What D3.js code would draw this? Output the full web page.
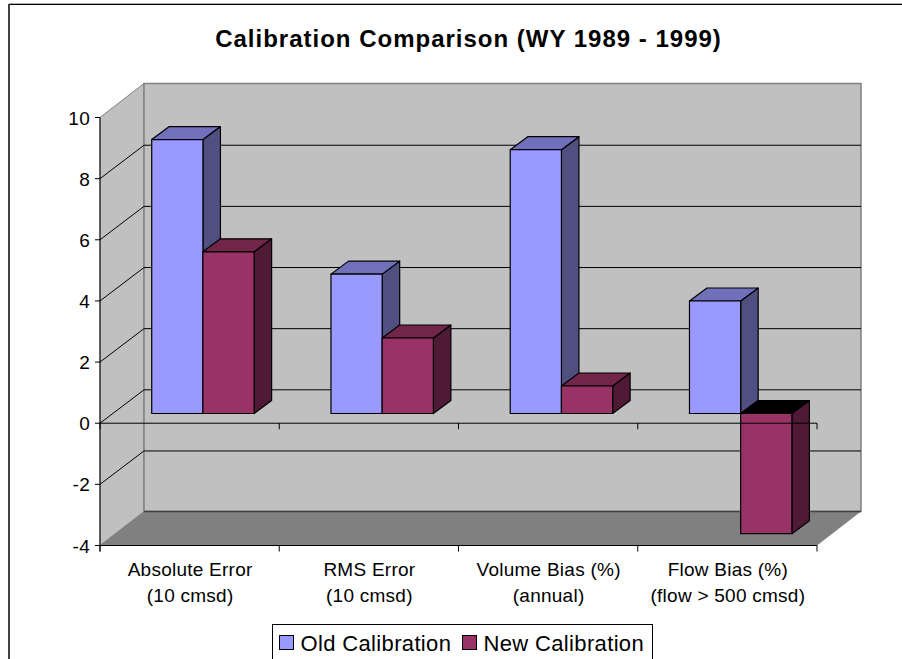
<!DOCTYPE html>
<html><head><meta charset="utf-8">
<script src="https://cdn.jsdelivr.net/npm/d3@7"></script>
<style>html,body{margin:0;padding:0;background:#fff;overflow:hidden}svg{display:block}text{font-family:"Liberation Sans",Arial,sans-serif;fill:#000}</style>
</head><body><svg id="c" width="902" height="659"></svg>
<script>
const categories=[["Absolute Error","(10 cmsd)"],["RMS Error","(10 cmsd)"],["Volume Bias (%)","(annual)"],["Flow Bias (%)","(flow > 500 cmsd)"]];
const seriesNames=["Old Calibration","New Calibration"];
const oldCalibration=[8.96,4.56,8.63,3.68];
const newCalibration=[5.29,2.47,0.9,-3.93];
const yTicks=[-4,-2,0,2,4,6,8,10];
const palette={old:["#9999ff","#7070bb","#4f4f80"],new:["#993366","#702549","#4f1a35"]};

const svg=d3.select("#c");
const y=d3.scaleLinear().domain([-4,10]).range([545.5,117.5]);
const x=d3.scaleBand().domain(d3.range(categories.length)).range([100,817]);
const depth={dx:44,dy:-34};
const barOff={dx:13.3,dy:-9.7}, barDepth={dx:17.5,dy:-13};
const pts=a=>a.map(p=>p.join(",")).join(" ");

// frame: runs off the right and bottom of the picture
svg.append("line").attr("x1",9).attr("x2",902).attr("y1",3.5).attr("y2",3.5).attr("stroke","#b0b0b0");
svg.append("line").attr("x1",8).attr("x2",902).attr("y1",4.5).attr("y2",4.5).attr("stroke","#000");
svg.append("line").attr("x1",9).attr("x2",9).attr("y1",4).attr("y2",659).attr("stroke","#404040").attr("stroke-width",2);
svg.append("text").attr("x",468.5).attr("y",47).attr("text-anchor","middle").attr("font-size",24).attr("letter-spacing",1).attr("font-weight","bold").text("Calibration Comparison (WY 1989 - 1999)");

const yTop=y(10),yBot=y(-4),L=x.range()[0],R=x.range()[1];
// walls
svg.append("polygon").attr("points",pts([[L,yTop],[L+depth.dx,yTop+depth.dy],[L+depth.dx,yBot+depth.dy],[L,yBot]])).attr("fill","#c0c0c0").attr("stroke","#808080");
svg.append("polygon").attr("points",pts([[L+depth.dx,yTop+depth.dy],[R+depth.dx,yTop+depth.dy],[R+depth.dx,yBot+depth.dy],[L+depth.dx,yBot+depth.dy]])).attr("fill","#c0c0c0").attr("stroke","#808080").attr("stroke-width",1.5);
svg.append("polygon").attr("points",pts([[L,yBot],[L+depth.dx,yBot+depth.dy],[R+depth.dx,yBot+depth.dy],[R,yBot]])).attr("fill","#808080");
svg.append("line").attr("x1",L+depth.dx).attr("x2",R+depth.dx).attr("y1",yBot+depth.dy).attr("y2",yBot+depth.dy).attr("stroke","#404040").attr("stroke-width",1.5);
// gridlines
const grids=yTicks.filter(v=>v>-4&&v<10);
svg.append("g").selectAll("polyline").data(grids).join("polyline")
 .attr("points",v=>pts([[L,y(v)],[L+depth.dx,y(v)+depth.dy+.6],[R+depth.dx,y(v)+depth.dy+.6]]))
 .attr("fill","none").attr("stroke","#000").attr("stroke-width",1);

// bars
const bars=[];
categories.forEach((c,i)=>{
  [[oldCalibration[i],palette.old,0],[newCalibration[i],palette.new,1]].forEach(([v,col,s])=>{bars.push({i,v,col,s});});
});
const barW=51.2, inset=(x.bandwidth()-2*barW)/2;
const g=svg.append("g");
bars.forEach(b=>{
  const x0=x(b.i)+inset+b.s*barW+barOff.dx, x1=x0+barW;
  const yv=y(b.v)+barOff.dy, y0=y(0)+barOff.dy;
  const ya=Math.min(yv,y0), yb=Math.max(yv,y0);
  const d=barDepth, st={stroke:"#000","stroke-width":1.2,"stroke-linejoin":"round"};
  const add=(p,f)=>{const e=g.append("polygon").attr("points",pts(p)).attr("fill",f);Object.entries(st).forEach(([k,val])=>e.attr(k,val));};
  add([[x1,ya],[x1+d.dx,ya+d.dy],[x1+d.dx,yb+d.dy],[x1,yb]],b.col[2]);
  add([[x0,ya],[x0+d.dx,ya+d.dy],[x1+d.dx,ya+d.dy],[x1,ya]],b.v<0?"#000":b.col[1]);
  add([[x0,ya],[x1,ya],[x1,yb],[x0,yb]],b.col[0]);
});

// axes
const line=(a,b,c,d)=>svg.append("line").attr("x1",a).attr("y1",b).attr("x2",c).attr("y2",d).attr("stroke","#000");
line(L,yTop,L,yBot+6);
yTicks.forEach(v=>{line(L-5,y(v),L,y(v));
  svg.append("text").attr("x",L-10).attr("y",y(v)+7).attr("text-anchor","end").attr("font-size",19).attr("letter-spacing",.3).text(v);});
[0,-4].forEach(v=>{line(L,y(v),R,y(v));
  d3.range(categories.length+1).forEach(i=>{const t=i<categories.length?x(i):R;line(t,y(v),t,y(v)+6);});});
categories.forEach((c,i)=>{const cx=x(i)+x.bandwidth()/2+.5;
  c.forEach((t,k)=>svg.append("text").attr("x",cx).attr("y",576+k*25.5).attr("text-anchor","middle").attr("font-size",19).attr("letter-spacing",.25).text(t));});

// legend
svg.append("rect").attr("x",272.5).attr("y",624.5).attr("width",380).attr("height",50).attr("fill","#fff").attr("stroke","#000");
const lx=[279,462];
seriesNames.forEach((n,i)=>{
  svg.append("rect").attr("x",lx[i]+.5).attr("y",635.5).attr("width",14).attr("height",14).attr("fill",i?palette.new[0]:palette.old[0]).attr("stroke","#000");
  svg.append("text").attr("x",lx[i]+21.5).attr("y",651).attr("font-size",22).attr("letter-spacing",.35).text(n);
});
</script></body></html>
